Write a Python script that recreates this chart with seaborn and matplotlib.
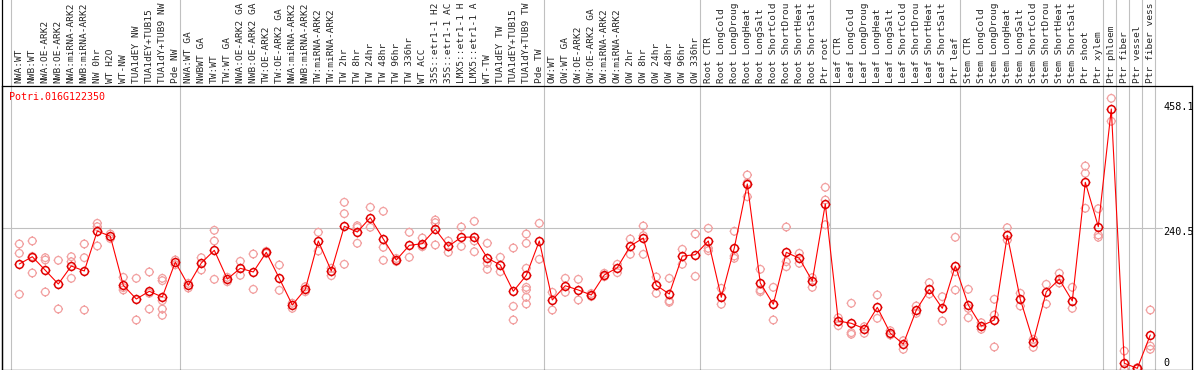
import matplotlib
matplotlib.use("Agg")
import pandas as pd
import matplotlib.pyplot as plt
import seaborn as sns
from matplotlib.path import Path

gene = "Potri.016G122350"

# sample names as far as the header shows them (14 characters)
samples = [
    "NWA:WT", "NWB:WT", "NWA:OE-ARK2", "NWB:OE-ARK2", "NWA:miRNA-ARK2", "NWB:miRNA-ARK2",
    "NW 0hr", "WT H2O", "WT-NW", "TUA1dEY NW", "TUA1dEY+TUB15", "TUA1dY+TUB9 NW", "Pde NW",
    "NWA:WT GA", "NWBWT GA", "TW:WT", "TW:WT GA", "NWA:OE-ARK2 GA", "NWB:OE-ARK2 GA",
    "TW:OE-ARK2", "TW:OE-ARK2 GA", "NWA:miRNA-ARK2", "NWB:miRNA-ARK2", "TW:miRNA-ARK2",
    "TW:miRNA-ARK2", "TW 2hr", "TW 8hr", "TW 24hr", "TW 48hr", "TW 96hr", "TW 336hr", "WT ACC",
    "35S::etr1-1 H2", "35S::etr1-1 AC", "LMX5::etr1-1 H", "LMX5::etr1-1 A", "WT-TW",
    "TUA1dEY TW", "TUA1dEY+TUB15", "TUA1dY+TUB9 TW", "Pde TW",
    "OW:WT", "OW:WT GA", "OW:OE-ARK2", "OW:OE-ARK2 GA", "OW:miRNA-ARK2", "OW:miRNA-ARK2",
    "OW 2hr", "OW 8hr", "OW 24hr", "OW 48hr", "OW 96hr", "OW 336hr",
    "Root CTR", "Root LongCold", "Root LongDroug", "Root LongHeat", "Root LongSalt",
    "Root ShortCold", "Root ShortDrou", "Root ShortHeat", "Root ShortSalt", "Ptr root",
    "Leaf CTR", "Leaf LongCold", "Leaf LongDroug", "Leaf LongHeat", "Leaf LongSalt",
    "Leaf ShortCold", "Leaf ShortDrou", "Leaf ShortHeat", "Leaf ShortSalt", "Ptr leaf",
    "Stem CTR", "Stem LongCold", "Stem LongDroug", "Stem LongHeat", "Stem LongSalt",
    "Stem ShortCold", "Stem ShortDrou", "Stem ShortHeat", "Stem ShortSalt", "Ptr shoot",
    "Ptr xylem", "Ptr phloem", "Ptr fiber", "Ptr vessel", "Ptr fiber vess",
]

mean_expr = [
    179.7, 192.1, 169.0, 145.6, 176.3, 167.8, 235.9, 226.9, 143.4, 120.1, 133.2, 123.5, 183.1,
    143.4, 181.4, 203.0, 154.1, 172.4, 166.1, 199.6, 155.3, 109.9, 136.6, 218.9, 167.8, 243.9,
    234.2, 258.6, 222.3, 186.5, 211.5, 214.3, 238.8, 209.8, 225.2, 225.7, 189.9, 178.0, 133.2,
    160.4, 218.9,
    118.4, 142.7, 135.4, 126.9, 161.0, 173.4, 210.4, 224.0, 143.4, 128.6, 193.3, 195.5,
    218.9, 123.0, 207.0, 316.0, 147.3, 111.1, 199.6, 189.4, 150.7, 281.9,
    82.6, 78.7, 69.5, 105.9, 61.7, 43.4, 101.3, 136.6, 104.2, 176.3,
    109.9, 74.1, 84.3, 228.6, 119.6, 47.4, 132.5, 153.6, 116.7, 318.9, 243.2,
    443.7, 10.6, 2.0, 58.8,
]

rep_expr = [
    [213.8, 197.9, 128.1], [218.9, 164.4, 192.5], [190.4, 186.5, 132.0], [186.0, 103.0],
    [192.1, 183.6, 155.3], [213.8, 190.4, 101.3], [249.0, 243.2, 210.4], [230.8, 223.0],
    [157.0, 135.4, 139.5], [155.3, 84.3], [166.1, 129.8, 103.0],
    [155.3, 151.3, 117.2, 103.0, 92.3], [186.5, 178.4],
    [146.8, 138.8], [190.4, 169.5], [237.1, 218.9, 153.6], [157.0, 149.5], [184.3, 160.4],
    [196.7, 136.6], [201.3, 197.6], [178.0, 134.9], [112.8, 104.2], [141.0, 132.5],
    [233.7, 201.8], [172.4, 159.8], [284.8, 265.4, 179.2], [244.9, 242.0, 215.0],
    [276.3, 242.2], [269.5, 208.1, 186.0], [189.1, 184.0], [233.7, 191.1],
    [224.0, 209.8, 209.2], [254.6, 250.0, 212.1], [218.9, 199.6], [242.7, 209.8],
    [252.4, 218.9, 200.6], [215.0, 180.9, 170.7], [191.1, 166.6], [207.0, 107.6, 84.3],
    [230.8, 215.0, 172.4, 140.0, 135.9, 123.0, 111.6], [249.0, 187.7],
    [131.5, 101.3], [155.3, 131.5], [153.6, 118.4], [129.4, 124.3], [163.9, 158.1],
    [179.2, 164.9], [222.3, 196.2], [244.4, 227.9, 196.2], [157.6, 129.8],
    [155.3, 116.7, 114.5], [204.7, 179.2], [230.8, 158.7],
    [240.5, 206.4, 202.4], [138.3, 111.1], [235.4, 193.3, 189.4], [331.3, 318.0, 294.3],
    [170.7, 135.4, 132.5], [140.0, 84.3], [242.7, 183.6, 175.1], [197.9, 180.9],
    [156.4, 140.0], [310.3, 288.7, 246.6],
    [88.2, 74.6], [112.8, 62.7, 60.0], [72.9, 61.7], [126.9, 87.2], [66.1, 58.8],
    [49.1, 34.4], [108.2, 95.7], [147.8, 128.6], [124.0, 82.6], [225.2, 166.6, 135.4],
    [136.6, 104.2, 88.2], [79.7, 68.5], [119.6, 92.8, 38.3], [241.5, 220.6],
    [129.8, 108.2], [51.4, 37.8], [145.1, 111.6], [163.9, 147.3], [140.0, 104.2],
    [346.6, 334.2, 274.6], [273.9, 229.1, 225.2],
    [461.9, 422.8], [31.5, 0.5], [1.0, 3.0], [101.3, 40.0, 34.4],
]

group_starts = [0, 13, 41, 53, 63, 73, 84, 85, 86, 87, 88]
axis_marks = ["458.1", "240.5", "0"]
axis_values = [458.1, 240.5, 0]

sns.set_theme(style="white")
plt.rcParams["font.family"] = ["DejaVu Sans Mono", "DejaVu Sans"]

W, H = 1194, 370
fig = plt.figure(figsize=(W / 100, H / 100), dpi=100)
ax = fig.add_axes([2 / W, 0.5 / H, 1190 / W, 284 / H])

pos = list(range(len(samples)))
reps = pd.DataFrame(
    [(i, v) for i, vals in enumerate(rep_expr) for v in vals], columns=["pos", "value"]
)

# circle with four little nubs, like the original markers
ring = Path.make_compound_path(
    Path.unit_circle(),
    Path([[0, 1], [0, 1.25], [0, -1], [0, -1.25], [1, 0], [1.25, 0], [-1, 0], [-1.25, 0]],
         [Path.MOVETO, Path.LINETO] * 4),
)

for k in group_starts:
    ax.axvline(k - 0.63, ymin=0, ymax=1.31, color="#c0c0c0", lw=0.8, clip_on=False, zorder=0)
ax.axhline(240.5, xmax=(1162 - 2) / 1190, color="#c0c0c0", lw=0.8, zorder=0)

sns.scatterplot(data=reps, x="pos", y="value", marker=ring, s=46, color="#f2a0a0",
                facecolor="none", edgecolor="#f2a0a0", linewidth=0.9, ax=ax, zorder=2)
sns.lineplot(x=pos, y=mean_expr, sort=False, color="#ff0000", lw=0.8, marker=ring,
             markersize=7, markerfacecolor="none", markeredgecolor="#e00000",
             markeredgewidth=1.1, ax=ax, zorder=3)

ax.set_xlim((2 - 19.3) / 13, (1192 - 19.3) / 13)
ax.set_ylim(0, 284 * 1.7033)
ax.set_xticks(pos)
ax.set_xticklabels(samples, rotation=90, fontsize=6.8)
ax.xaxis.tick_top()
ax.tick_params(axis="x", length=0, pad=2)
ax.set_yticks([])
ax.set_xlabel("")
ax.set_ylabel("")
for s in ax.spines.values():
    s.set_color("black")
    s.set_linewidth(0.9)
ax.axvline(ax.get_xlim()[0], ymin=0, ymax=1.31, color="black", lw=0.9, clip_on=False)

for lab, v, dy in zip(axis_marks, axis_values, [-6, -4, 7]):
    ax.annotate(lab, xy=((1163 - 19.3) / 13, v), xytext=(0, dy), textcoords="offset pixels",
                ha="left", va="center", fontsize=7.3, color="black")

fig.text(9 / W, 1 - 96.7 / H, gene, color="#ff0000", fontsize=7.2, ha="left", va="center")

fig.savefig("out.png", dpi=100)
